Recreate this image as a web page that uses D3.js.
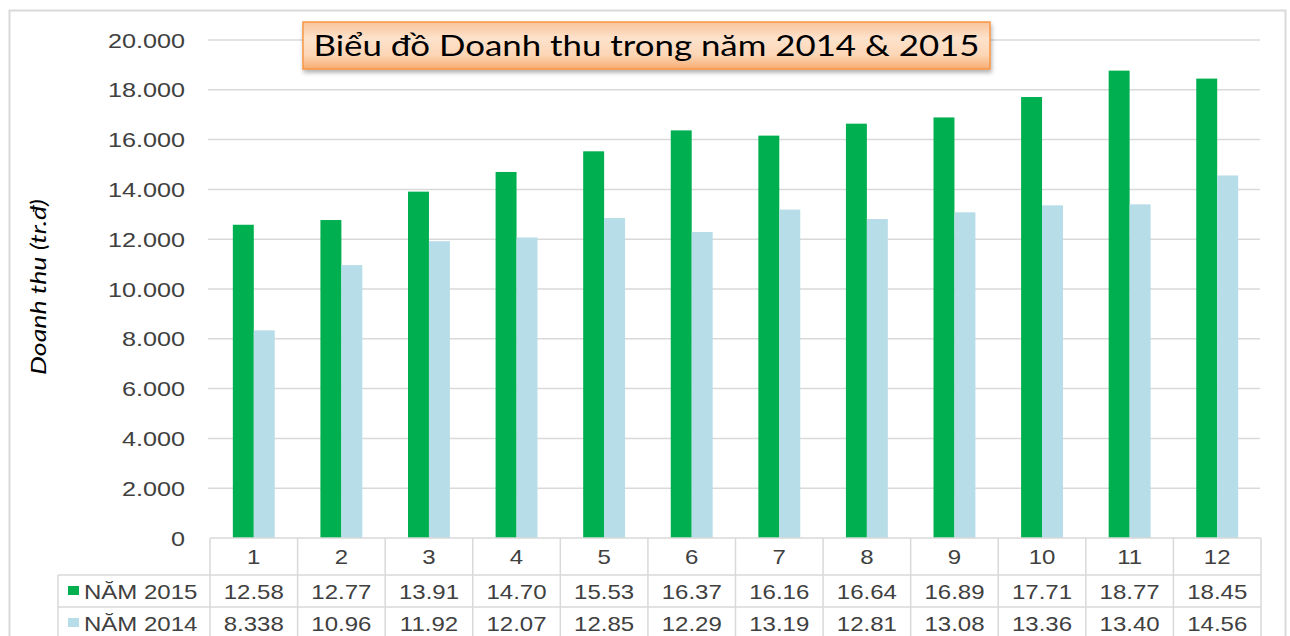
<!DOCTYPE html>
<html>
<head>
<meta charset="utf-8">
<script src="https://cdn.jsdelivr.net/npm/d3@7"></script>
<style>
  body { margin: 0; background: #fff; }
  svg { display: block; }
</style>
</head>
<body>
<div id="chart"></div>
<script>
// data (nghìn tr.đ)
var months = ["1", "2", "3", "4", "5", "6", "7", "8", "9", "10", "11", "12"];
var values2015 = [12.58, 12.77, 13.91, 14.70, 15.53, 16.37, 16.16, 16.64, 16.89, 17.71, 18.77, 18.45];
var values2014 = [8.338, 10.96, 11.92, 12.07, 12.85, 12.29, 13.19, 12.81, 13.08, 13.36, 13.40, 14.56];
var seriesNames = ["NĂM 2015", "NĂM 2014"];
var yTicks = [0, 2, 4, 6, 8, 10, 12, 14, 16, 18, 20];
var chartTitle = "Biểu đồ Doanh thu trong năm 2014 & 2015";
var yTitle = "Doanh thu (tr.đ)";

var W = 1290, H = 636;
var colors = ["#00b050", "#b7dde8"];
var gridColor = "#d9d9d9";
var textColor = "#404040";
var sx = 1.2; // picture is stretched horizontally

var svg = d3.select("#chart").append("svg")
  .attr("width", W).attr("height", H);

var defs = svg.append("defs");
var grad = defs.append("linearGradient").attr("id", "titleGrad")
  .attr("x1", 0).attr("y1", 0).attr("x2", 0).attr("y2", 1);
grad.append("stop").attr("offset", "0%").attr("stop-color", "#f9c49a");
grad.append("stop").attr("offset", "35%").attr("stop-color", "#fde2cc");
grad.append("stop").attr("offset", "70%").attr("stop-color", "#fcd6b6");
grad.append("stop").attr("offset", "100%").attr("stop-color", "#f8ac72");
var shadow = defs.append("filter").attr("id", "shadow")
  .attr("x", "-5%").attr("y", "-20%").attr("width", "110%").attr("height", "160%");
shadow.append("feDropShadow").attr("dx", 1).attr("dy", 3).attr("stdDeviation", 2)
  .attr("flood-color", "#000").attr("flood-opacity", 0.3);

// outer border
svg.append("rect")
  .attr("x", 9.5).attr("y", 10.5).attr("width", 1276).attr("height", 640)
  .attr("fill", "#fff").attr("stroke", gridColor).attr("stroke-width", 2);

var plot = { left: 210, right: 1261, top: 40, bottom: 538 };

var x = d3.scaleBand().domain(months).range([plot.left, plot.right]).padding(0);
var xs = d3.scaleBand().domain(seriesNames)
  .range([0, x.bandwidth()]).paddingInner(0).paddingOuter(1.09);
var y = d3.scaleLinear().domain([0, 20]).range([plot.bottom, plot.top]);

// gridlines
svg.append("g").selectAll("line")
  .data(yTicks.filter(function(d) { return d > 0; }))
  .enter().append("line")
  .attr("x1", 208).attr("x2", 1260)
  .attr("y1", function(d) { return y(d); })
  .attr("y2", function(d) { return y(d); })
  .attr("stroke", gridColor).attr("stroke-width", 1.5);

// y tick labels
function fmtTick(d) {
  return d === 0 ? "0" : d3.format(",")(d * 1000).replace(/,/g, ".");
}
svg.append("g").selectAll("text")
  .data(yTicks)
  .enter().append("text")
  .attr("transform", function(d) { return "translate(185," + y(d) + ") scale(" + sx + ",1)"; })
  .attr("text-anchor", "end")
  .attr("dy", "0.36em")
  .attr("font-family", "Liberation Sans, Arial, sans-serif")
  .attr("font-size", 21)
  .attr("fill", textColor)
  .text(fmtTick);

// bars
var series = [values2015, values2014];
var barG = svg.append("g");
series.forEach(function(vals, si) {
  barG.append("g").selectAll("rect")
    .data(vals)
    .enter().append("rect")
    .attr("x", function(d, i) { return x(months[i]) + xs(seriesNames[si]); })
    .attr("width", xs.bandwidth())
    .attr("y", function(d) { return y(d); })
    .attr("height", function(d) { return y(0) - y(d); })
    .attr("fill", colors[si]);
});

// data table
var rowLines = [538, 575, 607];
var tableG = svg.append("g");
tableG.append("line")
  .attr("x1", plot.left).attr("x2", plot.right)
  .attr("y1", rowLines[0]).attr("y2", rowLines[0])
  .attr("stroke", gridColor).attr("stroke-width", 1.5);
tableG.selectAll(".hrow")
  .data(rowLines.slice(1))
  .enter().append("line")
  .attr("x1", 58).attr("x2", plot.right)
  .attr("y1", function(d) { return d; }).attr("y2", function(d) { return d; })
  .attr("stroke", gridColor).attr("stroke-width", 1.5);
tableG.selectAll(".vcol")
  .data(months.map(function(m) { return x(m); }).concat([plot.right]))
  .enter().append("line")
  .attr("x1", function(d) { return d; }).attr("x2", function(d) { return d; })
  .attr("y1", rowLines[0]).attr("y2", H)
  .attr("stroke", gridColor).attr("stroke-width", 1.5);
tableG.append("line")
  .attr("x1", 58).attr("x2", 58).attr("y1", rowLines[1]).attr("y2", H)
  .attr("stroke", gridColor).attr("stroke-width", 1.5);

// category labels
tableG.append("g").selectAll("text")
  .data(months)
  .enter().append("text")
  .attr("transform", function(d) { return "translate(" + (x(d) + x.bandwidth() / 2) + ",564) scale(" + sx + ",1)"; })
  .attr("text-anchor", "middle")
  .attr("font-family", "Liberation Sans, Arial, sans-serif")
  .attr("font-size", 20)
  .attr("fill", textColor)
  .text(function(d) { return d; });

// value rows + legend keys
var rowBase = [599, 631];
series.forEach(function(vals, si) {
  tableG.append("g").selectAll("text")
    .data(vals)
    .enter().append("text")
    .attr("transform", function(d, i) { return "translate(" + (x(months[i]) + x.bandwidth() / 2) + "," + rowBase[si] + ") scale(" + sx + ",1)"; })
    .attr("text-anchor", "middle")
    .attr("font-family", "Liberation Sans, Arial, sans-serif")
    .attr("font-size", 20)
    .attr("fill", textColor)
    .text(function(d) { return d.toPrecision(4); });

  tableG.append("rect")
    .attr("x", 68).attr("y", rowBase[si] - 13)
    .attr("width", 11).attr("height", 9)
    .attr("fill", colors[si]);
  tableG.append("text")
    .attr("transform", "translate(84," + rowBase[si] + ") scale(" + sx + ",1)")
    .attr("font-family", "Liberation Sans, Arial, sans-serif")
    .attr("font-size", 20)
    .attr("fill", textColor)
    .text(seriesNames[si]);
});

// y axis title
svg.append("text")
  .attr("transform", "translate(46,287) rotate(-90)")
  .attr("text-anchor", "middle")
  .attr("font-family", "Lato, Open Sans, sans-serif")
  .attr("font-style", "italic")
  .attr("font-size", 21)
  .attr("textLength", 176)
  .attr("lengthAdjust", "spacingAndGlyphs")
  .attr("fill", "#000")
  .text(yTitle);

// title box
var tb = { x: 303, y: 22, w: 687, h: 47 };
svg.append("rect")
  .attr("x", tb.x).attr("y", tb.y).attr("width", tb.w).attr("height", tb.h)
  .attr("fill", "url(#titleGrad)")
  .attr("stroke", "#f79646").attr("stroke-width", 1.5)
  .attr("filter", "url(#shadow)");
svg.append("text")
  .attr("x", tb.x + tb.w / 2).attr("y", tb.y + 34)
  .attr("text-anchor", "middle")
  .attr("font-family", "Lato, Open Sans, sans-serif")
  .attr("font-size", 29)
  .attr("textLength", 666)
  .attr("lengthAdjust", "spacingAndGlyphs")
  .attr("fill", "#000")
  .text(chartTitle);
</script>
</body>
</html>
